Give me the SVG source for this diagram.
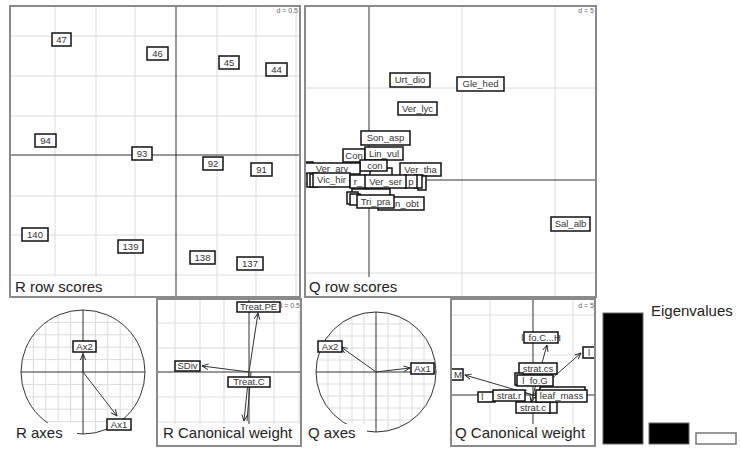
<svg xmlns="http://www.w3.org/2000/svg" width="740" height="449" viewBox="0 0 740 449">
<style>
.frame{fill:none;stroke:#8a8a8a;stroke-width:2}
.grid{stroke:#dcdcdc;stroke-width:1;fill:none}
.axis{stroke:#333;stroke-width:1;fill:none}
.lab rect{fill:#fff;stroke:#111;stroke-width:1.5}
.lab text{font-family:"Liberation Sans",Arial,sans-serif;font-size:9.5px;fill:#333;text-anchor:middle}
.title{font-family:"Liberation Sans",Arial,sans-serif;font-size:15px;fill:#222}
.dl{font-family:"Liberation Sans",Arial,sans-serif;font-size:7px;fill:#666}
.arr{stroke:#333;stroke-width:1;fill:none;marker-end:url(#ah)}
.wbg{fill:#fff;stroke:none}
</style>
<defs>
<marker id="ah" viewBox="0 0 10 10" refX="9" refY="5" markerWidth="7" markerHeight="7" orient="auto"><path d="M0,1 L9,5 L0,9" fill="none" stroke="#222" stroke-width="1.3"/></marker>
<clipPath id="cR"><circle cx="83" cy="372" r="62"/></clipPath>
<clipPath id="cQ"><circle cx="376" cy="372" r="60"/></clipPath>
<clipPath id="cRC"><rect x="157" y="299" width="144" height="147"/></clipPath>
<clipPath id="cQC"><rect x="451" y="299" width="144" height="147"/></clipPath>
<clipPath id="cQR"><rect x="305" y="5" width="291" height="292"/></clipPath>
</defs>
<rect width="740" height="449" fill="#fff"/>

<!-- R row scores panel -->
<g id="panel-R-row">
<g class="grid">
<path d="M55,6V297M96,6V297M135,6V297M217,6V297M256,6V297M296,6V297M10,36H300M10,76H300M10,116H300M10,196H300M10,235H300M10,275H300"/>
</g>
<g class="axis"><path d="M176,6V297M10,155H300"/></g>
<rect class="wbg" x="275" y="7" width="24" height="8"/>
<text class="dl" x="298" y="13" text-anchor="end">d = 0.5</text>
</g>
<g id="R-labels" class="lab">
<g id="r47"><rect x="52" y="33" width="19" height="13"/><text x="61.5" y="42.5">47</text></g>
<g id="r46"><rect x="147" y="47" width="21" height="13"/><text x="157.5" y="56.5">46</text></g>
<g id="r45"><rect x="219" y="56" width="20" height="13"/><text x="229" y="65.5">45</text></g>
<g id="r44"><rect x="266" y="63" width="21" height="13"/><text x="276.5" y="72.5">44</text></g>
<g id="r94"><rect x="35" y="134" width="21" height="13"/><text x="45.5" y="143.5">94</text></g>
<g id="r93"><rect x="132" y="147" width="20" height="13"/><text x="142" y="156.5">93</text></g>
<g id="r92"><rect x="203" y="157" width="20" height="13"/><text x="213" y="166.5">92</text></g>
<g id="r91"><rect x="251" y="163" width="21" height="13"/><text x="261.5" y="172.5">91</text></g>
<g id="r140"><rect x="22" y="228" width="26" height="13"/><text x="35" y="237.5">140</text></g>
<g id="r139"><rect x="118" y="240" width="25" height="13"/><text x="130.5" y="249.5">139</text></g>
<g id="r138"><rect x="190" y="251" width="25" height="13"/><text x="202.5" y="260.5">138</text></g>
<g id="r137"><rect x="237" y="257" width="26" height="13"/><text x="250" y="266.5">137</text></g>
</g>
<rect class="wbg" x="11" y="277" width="101" height="19"/>
<text class="title" x="15" y="292">R row scores</text>
<rect class="frame" x="10" y="6" width="290" height="291"/>

<!-- Q row scores panel -->
<g id="panel-Q-row">
<g class="grid"><path d="M462,6V297M555,6V297M305,88H596M305,273H596"/></g>
<g class="axis"><path d="M369,6V277M305,180H596"/></g>
<rect class="wbg" x="574" y="7" width="21" height="8"/>
<text class="dl" x="594" y="13" text-anchor="end">d = 5</text>
</g>
<g id="Q-labels" class="lab" clip-path="url(#cQR)">
<g id="q-urt"><rect x="390" y="73" width="40" height="14"/><text x="410" y="83">Urt_dio</text></g>
<g id="q-gle"><rect x="457" y="77" width="47" height="14"/><text x="480.5" y="87">Gle_hed</text></g>
<g id="q-verlyc"><rect x="398" y="102" width="39" height="13"/><text x="417.5" y="111.5">Ver_lyc</text></g>
<g id="q-son"><rect x="361" y="131" width="49" height="14"/><text x="385.5" y="141">Son_asp</text></g>
<g id="q-sal"><rect x="551" y="217" width="39" height="14"/><text x="570.5" y="227">Sal_alb</text></g>
<g id="q-stack1"><rect x="301" y="162" width="12" height="13"/><rect x="302" y="166" width="12" height="14"/><rect x="303" y="171" width="12" height="13"/></g>
<g id="q-con"><rect x="343" y="149" width="22" height="13"/><text x="354" y="158.5">Con</text></g>
<g id="q-lin"><rect x="365" y="147" width="38" height="13"/><text x="384" y="156.5">Lin_vul</text></g>
<g id="q-b1"><rect x="352" y="168" width="40" height="12"/></g>
<g id="q-cour"><rect x="340" y="165" width="30" height="11"/></g>
<g id="q-con2"><rect x="360" y="160" width="27" height="11"/><text x="375" y="169">con</text></g>
<g id="q-verarv"><rect x="305" y="163" width="55" height="11"/><text x="332" y="172">Ver_arv</text></g>
<g id="q-vertha"><rect x="400" y="163" width="41" height="13"/><text x="420.5" y="172.5">Ver_tha</text></g>
<g id="q-b2"><rect x="307" y="173" width="10" height="14"/><rect x="310" y="174" width="8" height="13"/></g>
<g id="q-b3"><rect x="418" y="176" width="8" height="14"/><rect x="414" y="175" width="8" height="13"/></g>
<g id="q-p"><rect x="405" y="175" width="12" height="13"/><text x="411" y="184.5">p</text></g>
<g id="q-vic"><rect x="313" y="173" width="37" height="14"/><text x="331.5" y="183">Vic_hir</text></g>
<g id="q-r"><rect x="350" y="175" width="16" height="13"/><text x="358" y="184.5">r_</text></g>
<g id="q-verser"><rect x="365" y="175" width="41" height="13"/><text x="385.5" y="184.5">Ver_ser</text></g>
<g id="q-b4"><rect x="352" y="189" width="38" height="11"/><rect x="347" y="192" width="11" height="12"/><rect x="350" y="194" width="10" height="11"/></g>
<g id="q-obt"><rect x="378" y="197" width="46" height="13"/><text x="407" y="206.5">n_obt</text></g>
<g id="q-tri"><rect x="357" y="195" width="37" height="13"/><text x="375.5" y="204.5">Tri_pra</text></g>
</g>
<rect class="wbg" x="306" y="277" width="96" height="19"/>
<text class="title" x="309" y="292">Q row scores</text>
<rect class="frame" x="305" y="6" width="291" height="291"/>

<!-- R axes -->
<g id="panel-R-axes">
<g class="grid" clip-path="url(#cR)" stroke="#d0d0d0">
<path d="M33.4,300V450M45.8,300V450M58.2,300V450M70.6,300V450M95.4,300V450M107.8,300V450M120.2,300V450M132.6,300V450M0,322.4H200M0,334.8H200M0,347.2H200M0,359.6H200M0,384.4H200M0,396.8H200M0,409.2H200M0,421.6H200"/>
</g>
<circle cx="83" cy="372" r="62" fill="none" stroke="#333" stroke-width="1"/>
<g class="axis"><path d="M83,310V434M21,372H145"/></g>
<path class="arr" d="M83,372L83,354"/>
<path class="arr" d="M83,372L117,416"/>
<g class="lab"><g id="rax2"><rect x="73" y="341" width="23" height="11"/><text x="84.5" y="349.5">Ax2</text></g>
<g id="rax1"><rect x="107" y="419" width="24" height="11"/><text x="119" y="427.5">Ax1</text></g></g>
<rect class="wbg" x="9" y="423" width="68" height="24"/>
<text class="title" x="16" y="438">R axes</text>
</g>

<!-- R Canonical weight -->
<g id="panel-R-canon">
<g clip-path="url(#cRC)">
<g class="grid"><path d="M175,299V446M200,299V446M224,299V446M274,299V446M299,299V446M157,323H301M157,348H301M157,397H301M157,422H301"/></g>
<g class="axis"><path d="M249,299V426M157,372H301"/></g>
<path class="arr" d="M249,372L258,313"/>
<path class="arr" d="M249,372L202,366"/>
<path class="arr" d="M249,372L244,421"/>
<path class="axis" d="M251,372L247,421"/>
<g class="lab">
<g id="rc-pe"><rect x="237" y="302" width="43" height="10"/><text x="258.5" y="310">Treat.PE</text></g>
<g id="rc-sdiv"><rect x="175" y="361" width="25" height="10"/><text x="187.5" y="369">SDiv</text></g>
<g id="rc-c"><rect x="228" y="377" width="42" height="10"/><text x="249" y="385">Treat.C</text></g>
</g>
<rect class="wbg" x="281" y="302" width="19" height="8"/>
<text class="dl" x="300" y="308" text-anchor="end">d = 0.5</text>
<rect class="wbg" x="158" y="424" width="143" height="21"/>
<text class="title" x="163" y="438">R Canonical weight</text>
</g>
<rect class="frame" x="157" y="299" width="144" height="147"/>
</g>

<!-- Q axes -->
<g id="panel-Q-axes">
<g class="grid" clip-path="url(#cQ)" stroke="#d0d0d0">
<path d="M328,300V450M340,300V450M352,300V450M364,300V450M388,300V450M400,300V450M412,300V450M424,300V450M300,324H460M300,336H460M300,348H460M300,360H460M300,384H460M300,396H460M300,408H460M300,420H460"/>
</g>
<circle cx="376" cy="372" r="60" fill="none" stroke="#333" stroke-width="1"/>
<g class="axis"><path d="M376,312V432M316,372H436"/></g>
<path class="arr" d="M376,372L341,347"/>
<path class="arr" d="M376,372L410,368"/>
<g class="lab"><g id="qax2"><rect x="318" y="341" width="24" height="11"/><text x="330" y="349.5">Ax2</text></g>
<g id="qax1"><rect x="411" y="363" width="23" height="11"/><text x="422.5" y="371.5">Ax1</text></g></g>
<rect class="wbg" x="303" y="424" width="64" height="23"/>
<text class="title" x="308" y="438">Q axes</text>
</g>

<!-- Q Canonical weight -->
<g id="panel-Q-canon">
<g clip-path="url(#cQC)">
<g class="grid"><path d="M490,299V446M573,299V446M451,315H595M451,355H595M451,435H595"/></g>
<g class="axis"><path d="M533,299V426M451,395H595"/></g>
<path class="arr" d="M533,395L547,345"/>
<path class="arr" d="M533,395L581,353"/>
<path class="arr" d="M533,395L465,375"/>
<path class="arr" d="M533,395L520,391"/>
<path class="arr" d="M533,395L540,397"/>
<path class="arr" d="M533,395L531,402"/>
<g class="lab">
<g id="qc-lfoch"><rect x="524" y="332" width="34" height="11"/><text x="541" y="340.5">l_fo.C...H</text></g>
<g id="qc-l1"><rect x="583" y="347" width="16" height="11"/><text x="588" y="355.5" style="text-anchor:start">l_</text></g>
<g id="qc-m"><rect x="447" y="369" width="16" height="11"/><text x="458" y="377.5">M</text></g>
<g id="qc-cs"><rect x="519" y="363" width="38" height="11"/><text x="538" y="371.5">strat.cs</text></g>
<g id="qc-b1"><rect x="515" y="373" width="8" height="12"/></g>
<g id="qc-g"><rect x="517" y="375" width="36" height="11"/><text x="535" y="383.5">l_fo.G</text></g>
<g id="qc-b2"><rect x="540" y="387" width="45" height="10"/></g>
<g id="qc-l2"><rect x="478" y="392" width="17" height="10"/><text x="485" y="400">l_</text></g>
<g id="qc-r"><rect x="493" y="390" width="32" height="11"/><text x="509" y="398.5">strat.r</text></g>
<g id="qc-b3"><rect x="549" y="402" width="8" height="11"/></g>
<g id="qc-c"><rect x="516" y="402" width="34" height="11"/><text x="533" y="410.5">strat.c</text></g>
<g id="qc-leaf"><rect x="536" y="390" width="51" height="12"/><text x="561.5" y="399">leaf_mass</text></g>
</g>
<rect class="wbg" x="574" y="302" width="20" height="8"/>
<text class="dl" x="594" y="308" text-anchor="end">d = 5</text>
<rect class="wbg" x="452" y="424" width="143" height="21"/>
<text class="title" x="455" y="438">Q Canonical weight</text>
</g>
<rect class="frame" x="451" y="299" width="144" height="147"/>
</g>

<!-- Eigenvalues -->
<g id="eigenvalues">
<rect x="603" y="313" width="40" height="131" fill="#000" stroke="#666" stroke-width="1"/>
<rect x="649" y="423" width="40" height="21" fill="#000" stroke="#666" stroke-width="1"/>
<rect x="696" y="433" width="40" height="11" fill="#fff" stroke="#777" stroke-width="1.5"/>
<text class="title" x="651" y="316">Eigenvalues</text>
</g>
</svg>
